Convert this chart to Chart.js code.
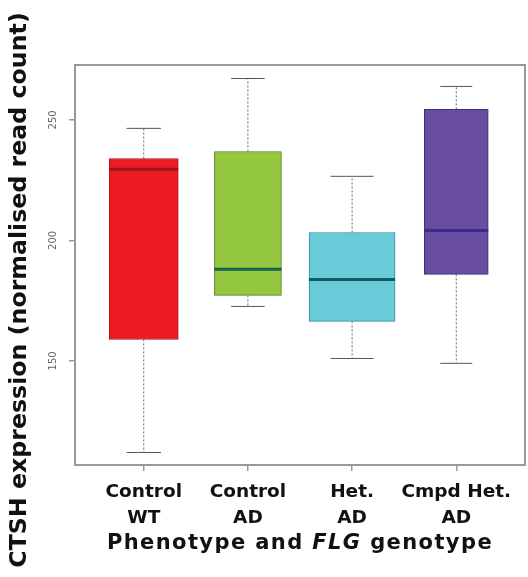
<!DOCTYPE html>
<html><head><meta charset="utf-8">
<script src="https://cdn.jsdelivr.net/npm/chart.js@4.4.1/dist/chart.umd.min.js"></script>
<style>html,body{margin:0;padding:0;background:#fff;}#wrap{width:528px;height:577px;}</style>
</head><body><div id="wrap"><canvas id="c" width="528" height="577"></canvas></div>
<script>
// ---- data ----
const categories = [["Control","WT"],["Control","AD"],["Het.","AD"],["Cmpd Het.","AD"]];
const whiskerLow  = [112.0, 172.6, 151.0, 149.0];
const q1          = [158.9, 177.2, 166.4, 185.9];
const median      = [229.5, 188.0, 183.8, 204.1];
const q3          = [234.0, 236.9, 203.3, 254.4];
const whiskerHigh = [246.5, 267.2, 226.6, 263.9];
const yTicks = [150, 200, 250];

// ---- styles ----
const fillColors   = ['#ED1C24', '#93C83E', '#69CBD8', '#6A4CA1'];
const borderColors = ['#B3141A', '#4E7A25', '#2E8E9A', '#3E2D80'];
const medianColors = ['#A3121A', '#135F52', '#0B5E66', '#3A2C8E'];
const boxWidthPx = [69, 67, 86, 64];
const pxPerUnit = 104.2;

const datasets = [];
categories.forEach((c, i) => {
  const x = i + 1;
  const half = boxWidthPx[i] / 2 / pxPerUnit;
  const capHalf = boxWidthPx[i] / 4 / pxPerUnit;
  datasets.push({type:'bar', data:[{x:x, y:[q1[i], q3[i]]}], backgroundColor:fillColors[i],
    borderColor:borderColors[i], borderWidth:1, borderSkipped:false, barThickness:boxWidthPx[i],
    grouped:false, order:2});
  const lineBase = {type:'line', pointRadius:0, borderWidth:1, borderColor:'#666', fill:false, order:3};
  datasets.push(Object.assign({}, lineBase, {data:[{x:x,y:q3[i]},{x:x,y:whiskerHigh[i]}], borderDash:[2,2]}));
  datasets.push(Object.assign({}, lineBase, {data:[{x:x,y:q1[i]},{x:x,y:whiskerLow[i]}], borderDash:[2,2]}));
  datasets.push(Object.assign({}, lineBase, {data:[{x:x-capHalf,y:whiskerHigh[i]},{x:x+capHalf,y:whiskerHigh[i]}], borderColor:'#555'}));
  datasets.push(Object.assign({}, lineBase, {data:[{x:x-capHalf,y:whiskerLow[i]},{x:x+capHalf,y:whiskerLow[i]}], borderColor:'#555'}));
  datasets.push({type:'line', pointRadius:0, borderWidth:3, borderColor:medianColors[i], borderCapStyle:'butt',
    data:[{x:x-half,y:median[i]},{x:x+half,y:median[i]}], order:0});
});

const extras = {
  id:'extras',
  afterDraw(chart) {
    const {ctx, chartArea:a, scales} = chart;
    ctx.save();
    ctx.strokeStyle = '#999'; ctx.lineWidth = 2;
    ctx.strokeRect(a.left, a.top, a.right - a.left, a.bottom - a.top);
    // rotated y tick labels
    ctx.fillStyle = '#666';
    ctx.font = '10px "DejaVu Sans"';
    ctx.textAlign = 'center'; ctx.textBaseline = 'middle';
    scales.y.ticks.forEach(t => {
      const y = scales.y.getPixelForValue(t.value);
      ctx.save(); ctx.translate(a.left - 22, y); ctx.rotate(-Math.PI/2);
      ctx.fillText(String(t.value), 0, 0); ctx.restore();
    });
    // y title
    ctx.fillStyle = '#111';
    ctx.font = 'bold 23.7px "DejaVu Sans"';
    ctx.save(); ctx.translate(20, 290); ctx.rotate(-Math.PI/2);
    ctx.textBaseline = 'middle';
    ctx.fillText('CTSH expression (normalised read count)', 0, 0); ctx.restore();
    // x title with italic FLG
    ctx.letterSpacing = '1.4px';
    const parts = [['Phenotype and ', 'bold 21px "DejaVu Sans"'], ['FLG', 'italic bold 21px "DejaVu Sans"'], [' genotype', 'bold 21px "DejaVu Sans"']];
    let total = 0;
    parts.forEach(p => { ctx.font = p[1]; total += ctx.measureText(p[0]).width; });
    let x = (a.left + a.right) / 2 - total / 2;
    ctx.textAlign = 'left'; ctx.textBaseline = 'alphabetic';
    parts.forEach(p => { ctx.font = p[1]; ctx.fillText(p[0], x, 549); x += ctx.measureText(p[0]).width; });
    ctx.restore();
  }
};

new Chart(document.getElementById('c'), {
  type:'bar',
  data:{datasets:datasets},
  options:{
    responsive:false, devicePixelRatio:1, animation:false,
    layout:{padding:{top:65, right:3, left:0, bottom:0}},
    plugins:{legend:{display:false}, tooltip:{enabled:false}},
    scales:{
      x:{type:'linear', min:0.34, max:4.66, offset:false,
        afterBuildTicks:(s) => { s.ticks = categories.map((c, i) => ({value:i + 1})); },
        afterFit:(s) => { s.height = 112; },
        grid:{offset:false, drawOnChartArea:false, drawTicks:true, tickLength:6, color:'#999', lineWidth:1.5},
        border:{display:false},
        ticks:{autoSkip:false, maxRotation:0, minRotation:0, padding:8, color:'#111',
          font:{family:'"DejaVu Sans"', size:18.5, weight:'bold', lineHeight:1.4},
          callback:(v) => categories[Math.round(v) - 1]}
      },
      y:{type:'linear', min:106.8, max:272.8,
        afterBuildTicks:(s) => { s.ticks = yTicks.map(v => ({value:v})); },
        afterFit:(s) => { s.width = 75; },
        grid:{drawOnChartArea:false, drawTicks:true, tickLength:6, color:'#999', lineWidth:1.5},
        border:{display:false},
        ticks:{display:false}
      }
    }
  },
  plugins:[extras]
});
</script></body></html>
